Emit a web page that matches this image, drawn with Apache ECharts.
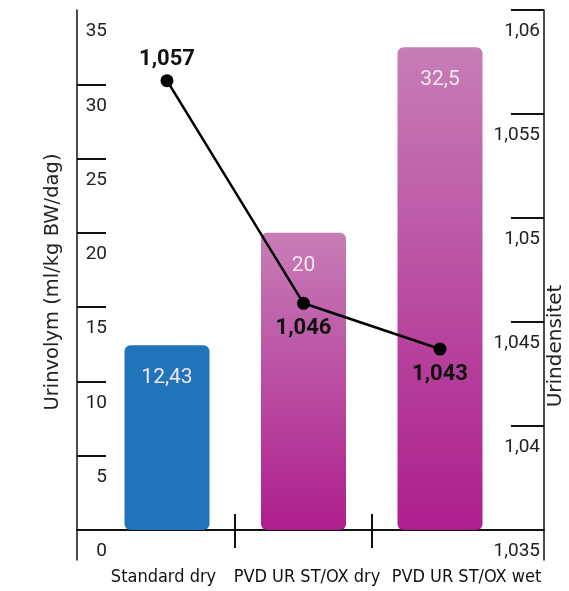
<!DOCTYPE html>
<html><head><meta charset="utf-8">
<script src="https://cdn.jsdelivr.net/npm/echarts@6/dist/echarts.min.js"></script>
<style>html,body{margin:0;padding:0;background:#fff}#c{width:569px;height:591px}</style>
</head><body><div id="c"></div>
<script>
const categories = ['Standard dry', 'PVD UR ST/OX dry', 'PVD UR ST/OX wet'];
const volumeValues = [12.43, 20, 32.5];
const volumeLabels = ['12,43', '20', '32,5'];
const densityValues = [1.0566, 1.0459, 1.0437];
const densityLabels = ['1,057', '1,046', '1,043'];
const leftTickLabels = [0, 5, 10, 15, 20, 25, 30, 35];
const leftTickMarks = [5, 10, 15, 20, 25, 30];
const rightTickLabels = [1.035, 1.04, 1.045, 1.05, 1.055, 1.06];

const chart = echarts.init(document.getElementById('c'), null, {renderer: 'canvas'});
const blue = '#1f74ba';
const pink = new echarts.graphic.LinearGradient(0, 0, 0, 1, [
  {offset: 0, color: '#c77db6'}, {offset: 1, color: '#ad1e8d'}
]);
const numFont = 'Roboto';
const fmtNum = v => String(v).replace('.', ',');
const xMin = -0.6593, xMax = 2.7619;

const baseX = {
  type: 'value', min: xMin, max: xMax, position: 'bottom',
  splitLine: {show: false}
};

chart.setOption({
  animation: false,
  backgroundColor: '#fff',
  grid: {left: 77, right: 25, top: 10, bottom: 31, containLabel: false, outerBoundsMode: 'none'},
  xAxis: [
    Object.assign({}, baseX, {
      axisLine: {show: true, onZero: true, onZeroAxisIndex: 0, lineStyle: {color: '#111', width: 2}},
      axisTick: {show: true, customValues: [0.5, 1.5], length: 18, inside: false, lineStyle: {color: '#111', width: 2}},
      axisLabel: {
        show: true, customValues: [-0.0256, 1.0256, 2.1942], margin: 8,
        fontFamily: 'DejaVu Sans Condensed', fontSize: 18, color: '#111',
        formatter: v => categories[Math.round(v) < 0 ? 0 : Math.round(v)]
      }
    }),
    Object.assign({}, baseX, {
      axisLine: {show: false, onZero: true, onZeroAxisIndex: 0},
      axisTick: {show: true, customValues: [0.5, 1.5], length: 16, inside: true, lineStyle: {color: '#111', width: 2}},
      axisLabel: {show: false}
    })
  ],
  yAxis: [
    {
      type: 'value', position: 'left', min: -2.019, max: 35,
      name: 'Urinvolym (ml/kg BW/dag)', nameLocation: 'middle', nameRotate: 90, nameGap: 14,
      nameMoveOverlap: false,
      nameTextStyle: {fontFamily: 'DejaVu Sans', fontSize: 19.5, color: '#222', padding: [0, 0, 0, 6]},
      splitLine: {show: false},
      axisLine: {show: true, onZero: false, lineStyle: {color: '#111', width: 1.5}},
      axisTick: {show: true, inside: true, length: 29, customValues: leftTickMarks, lineStyle: {color: '#111', width: 2}},
      axisLabel: {
        show: true, inside: true, customValues: leftTickLabels, align: 'right', margin: 30,
        verticalAlign: 'top', padding: [12, 0, 0, 0],
        fontFamily: numFont, fontSize: 19, color: '#222', formatter: v => fmtNum(v)
      }
    },
    {
      type: 'value', position: 'right', min: 1.033558, max: 1.06,
      name: 'Urindensitet', nameLocation: 'middle', nameRotate: 90, nameGap: 2,
      nameMoveOverlap: false,
      nameTextStyle: {fontFamily: 'DejaVu Sans', fontSize: 20, color: '#222', padding: [0, 122, 0, 0]},
      splitLine: {show: false},
      axisLine: {show: true, onZero: false, lineStyle: {color: '#111', width: 1.5}},
      axisTick: {show: true, inside: true, length: 33, customValues: rightTickLabels, lineStyle: {color: '#111', width: 2}},
      axisLabel: {
        show: true, inside: true, customValues: rightTickLabels, align: 'right', margin: 4,
        verticalAlign: 'top', padding: [12, 0, 0, 0],
        fontFamily: numFont, fontSize: 19, color: '#222', formatter: v => fmtNum(v)
      }
    }
  ],
  series: [
    {
      type: 'bar', xAxisIndex: 0, yAxisIndex: 0, barWidth: 85,
      data: volumeValues.map((v, i) => ({
        value: [i, v],
        itemStyle: {color: i === 0 ? blue : pink, borderRadius: 6},
        label: {formatter: volumeLabels[i]}
      })),
      label: {show: true, position: 'insideTop', distance: 22, fontFamily: numFont, fontSize: 21, color: '#f3e6f0'}
    },
    {
      type: 'line', xAxisIndex: 0, yAxisIndex: 1, symbol: 'circle', symbolSize: 13,
      lineStyle: {color: '#000', width: 2.5}, itemStyle: {color: '#000'},
      data: densityValues.map((v, i) => ({
        value: [i, v],
        label: {position: i === 0 ? 'top' : 'bottom', distance: i === 0 ? 4 : 8, formatter: densityLabels[i]}
      })),
      label: {show: true, fontFamily: numFont, fontWeight: 'bold', fontSize: 22, color: '#111'},
      z: 5
    }
  ]
});
</script></body></html>
